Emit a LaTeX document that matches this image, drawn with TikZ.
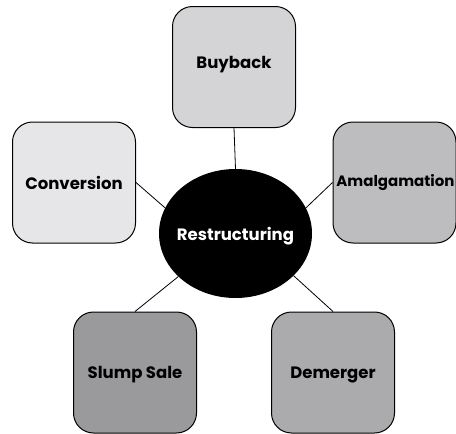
\documentclass[tikz,border=0pt]{standalone}
\usepackage{fontspec}
\setmainfont{Poppins}
\usetikzlibrary{shapes.geometric}
\definecolor{cBuy}{HTML}{D4D4D6}
\definecolor{cConv}{HTML}{E6E6E8}
\definecolor{cAmal}{HTML}{BDBDBF}
\definecolor{cSlump}{HTML}{9A9A9C}
\definecolor{cDem}{HTML}{ABABAD}
\tikzset{
  box/.style={draw=black, line width=1pt, rounded corners=20pt, minimum width=123pt, minimum height=121pt, inner sep=0pt},
  lbl/.style={font=\fontsize{16.5}{18}\selectfont\bfseries, inner sep=0pt},
  link/.style={draw=black, line width=0.8pt},
}
\begin{document}
\begin{tikzpicture}[x=1pt,y=-1pt]
\useasboundingbox (0,0) rectangle (456,434);
\node[box, fill=cBuy] (buy) at (234,67) {};
\node[box, fill=cConv] (conv) at (74,182.5) {};
\node[box, fill=cAmal] (amal) at (394.5,182.5) {};
\node[box, fill=cSlump] (slump) at (135,372.5) {};
\node[box, fill=cDem] (dem) at (333,372.5) {};
\node[ellipse, fill=black, minimum width=153pt, minimum height=129pt, inner sep=0pt] (res) at (235.5,233.5) {};
\node[lbl] (tbuy) at (buy.center) [yshift=2pt] {Buyback};
\node[lbl] (tconv) at (conv.center) {Conversion};
\node[lbl, font=\fontsize{15}{18}\selectfont\bfseries] (tamal) at (395.5,182.5) {Amalgamation};
\node[lbl] (tslump) at (slump.center) [yshift=-2pt] {Slump Sale};
\node[lbl] (tdem) at (dem.center) [yshift=-2pt] {Demerger};
\node[lbl, text=white] (tres) at (res.center) [yshift=-3pt] {Restructuring};
\draw[link] (buy.south) -- (res.north);
\draw[link] (conv.east) -- (res.160);
\draw[link] (amal.west) -- (res.20);
\draw[link] (slump.north) -- (res.217);
\draw[link] (dem.north) -- (res.324);
\end{tikzpicture}
\end{document}
